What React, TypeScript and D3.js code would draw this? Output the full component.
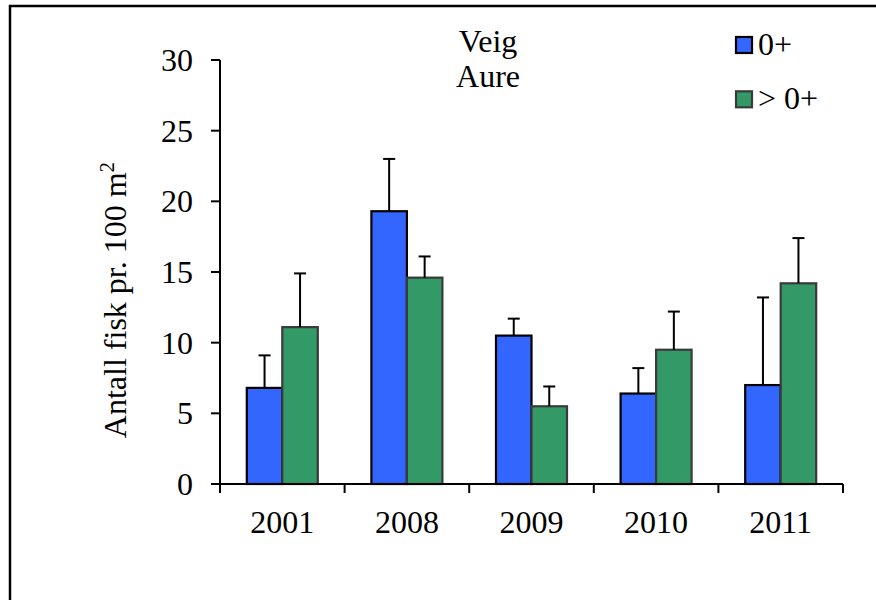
import React from "react";
import * as d3 from "d3";

// Veig – Aure: density (fish per 100 m²) by year and age group, with error bars
const years = ["2001", "2008", "2009", "2010", "2011"];
const groups = ["0+", "> 0+"];
const youngValues = [6.8, 19.3, 10.5, 6.4, 7.0];
const youngUpper = [9.1, 23.0, 11.7, 8.2, 13.2];
const olderValues = [11.1, 14.6, 5.5, 9.5, 14.2];
const olderUpper = [14.9, 16.1, 6.9, 12.2, 17.4];
const yTicks = [0, 5, 10, 15, 20, 25, 30];

const groupColors = ["#3366FF", "#339966"];
const groupStrokes = ["#000000", "#3a3a3a"];

const W = 876;
const H = 600;
const FONT = "Liberation Serif, Times New Roman, serif";

export default function App() {
  const x = d3.scaleBand<string>().domain(years).range([220, 843]).padding(0);
  const xs = d3
    .scaleBand<string>()
    .domain(groups)
    .range([0, x.bandwidth()])
    .paddingInner(0)
    .paddingOuter(0.755);
  const y = d3.scaleLinear().domain([0, 30]).range([484, 60]);

  const series = [
    { key: groups[0], values: youngValues, upper: youngUpper },
    { key: groups[1], values: olderValues, upper: olderUpper },
  ];

  const capHalf = 6;

  return (
    <svg
      width={W}
      height={H}
      style={{ position: "absolute", left: 0, top: 0, background: "#fff", fontFamily: FONT }}
    >
      {/* outer frame */}
      <rect x={10} y={6} width={W} height={H} fill="none" stroke="#000" strokeWidth={2.5} />

      {/* title */}
      <text x={488} y={52} textAnchor="middle" fontSize={32}>Veig</text>
      <text x={488} y={87} textAnchor="middle" fontSize={32}>Aure</text>

      {/* bars */}
      {series.map((s, si) =>
        years.map((yr, i) => {
          const bx = (x(yr) as number) + (xs(s.key) as number);
          const bw = xs.bandwidth();
          const top = y(s.values[i]);
          return (
            <rect
              key={`${s.key}-${yr}`}
              x={bx}
              y={top}
              width={bw}
              height={y(0) - top}
              fill={groupColors[si]}
              stroke={groupStrokes[si]}
              strokeWidth={2.2}
            />
          );
        })
      )}

      {/* error bars */}
      {series.map((s) =>
        years.map((yr, i) => {
          const cx = (x(yr) as number) + (xs(s.key) as number) + xs.bandwidth() / 2;
          const top = y(s.values[i]);
          const hi = y(s.upper[i]);
          return (
            <g key={`err-${s.key}-${yr}`} stroke="#000" strokeWidth={2}>
              <line x1={cx} x2={cx} y1={top} y2={hi} />
              <line x1={cx - capHalf} x2={cx + capHalf} y1={hi} y2={hi} />
            </g>
          );
        })
      )}

      {/* y axis */}
      <line x1={220} x2={220} y1={y(30)} y2={y(0)} stroke="#000" strokeWidth={2} />
      {yTicks.map((t) => (
        <g key={`yt-${t}`}>
          <line x1={211} x2={220} y1={y(t)} y2={y(t)} stroke="#000" strokeWidth={2} />
          <text x={193} y={y(t)} dy="0.34em" textAnchor="end" fontSize={32}>
            {t}
          </text>
        </g>
      ))}

      {/* x axis */}
      <line x1={219} x2={843} y1={y(0)} y2={y(0)} stroke="#000" strokeWidth={2} />
      {[...years.map((yr) => x(yr) as number), 843].map((px, i) => (
        <line key={`xt-${i}`} x1={px} x2={px} y1={y(0)} y2={y(0) + 9} stroke="#000" strokeWidth={2} />
      ))}
      {years.map((yr) => (
        <text
          key={`xl-${yr}`}
          x={(x(yr) as number) + x.bandwidth() / 2}
          y={533}
          textAnchor="middle"
          fontSize={32}
        >
          {yr}
        </text>
      ))}

      {/* y axis title */}
      <text
        transform={`translate(126, 300) rotate(-90)`}
        textAnchor="middle"
        fontSize={32}
      >
        Antall fisk pr. 100 m
        <tspan dy={-12} fontSize={21}>2</tspan>
      </text>

      {/* legend */}
      {groups.map((g, i) => (
        <g key={`lg-${g}`} transform={`translate(736, ${37 + i * 54.3})`}>
          <rect
            width={16}
            height={16}
            fill={groupColors[i]}
            stroke={groupStrokes[i]}
            strokeWidth={2.2}
          />
          <text x={22} y={17.5} fontSize={32}>
            {g}
          </text>
        </g>
      ))}
    </svg>
  );
}
